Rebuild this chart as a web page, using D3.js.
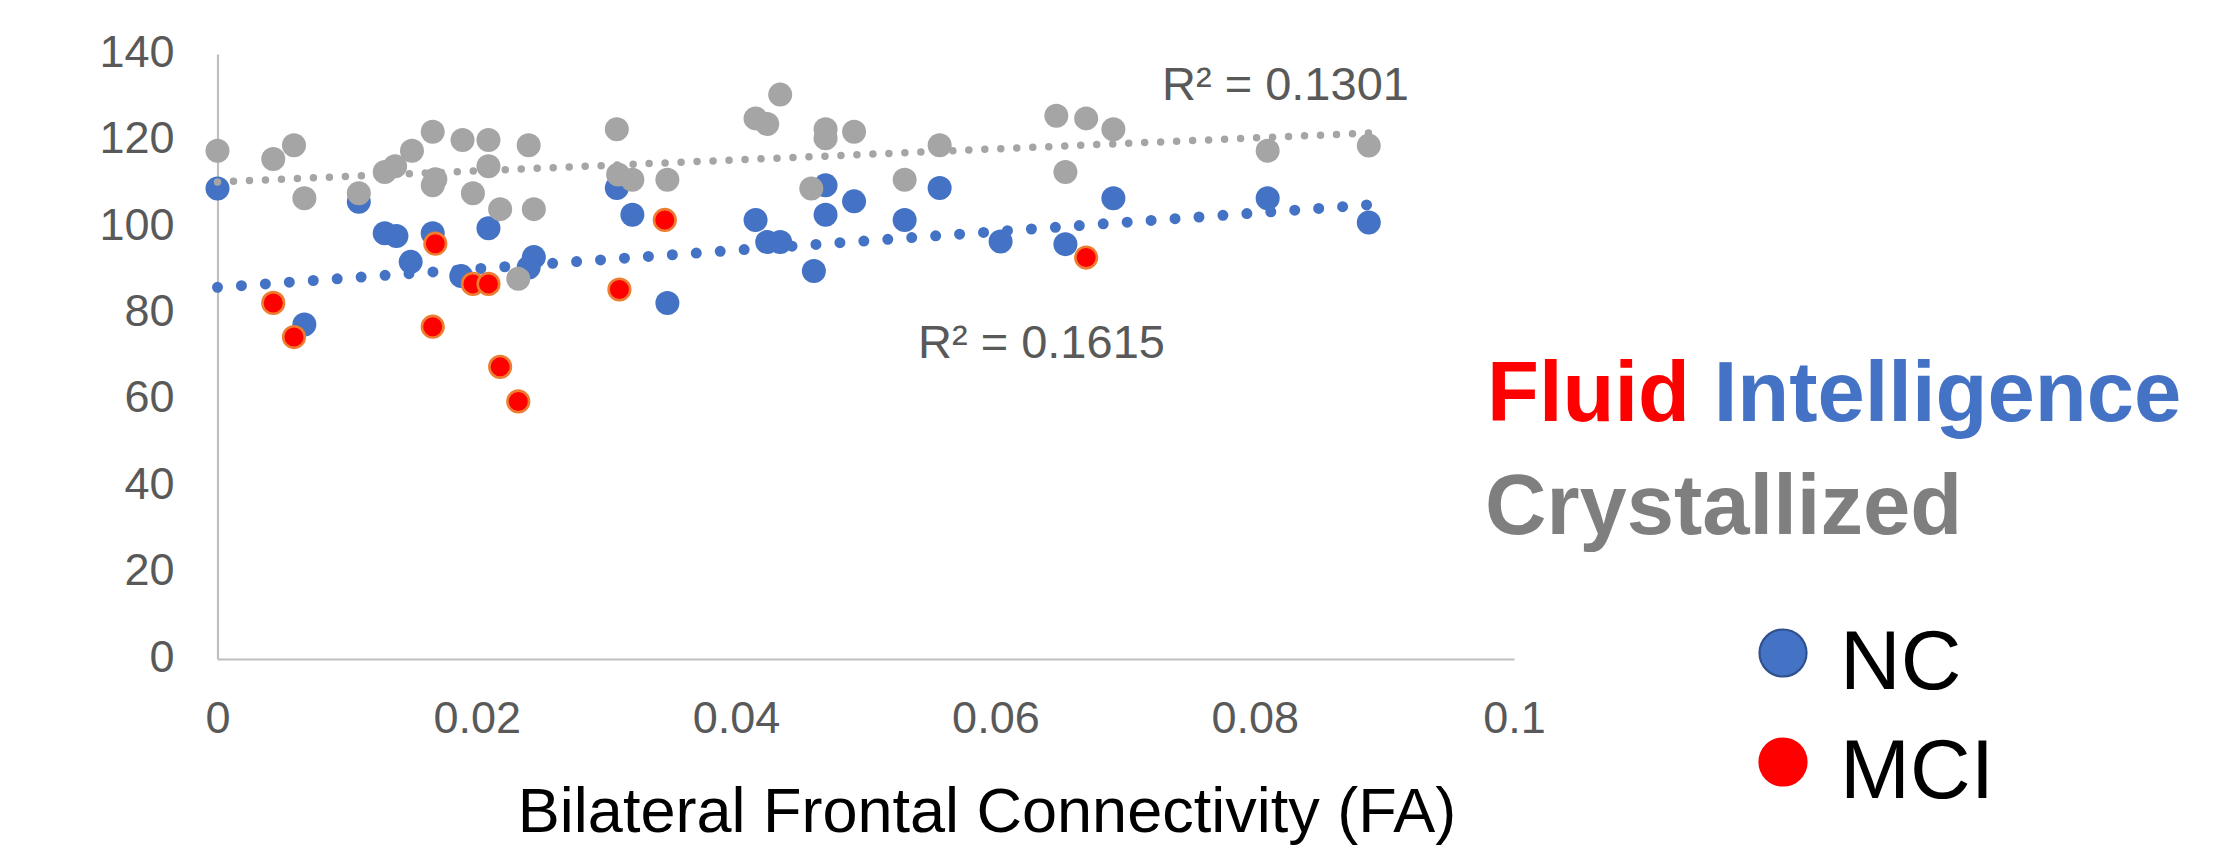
<!DOCTYPE html>
<html><head><meta charset="utf-8">
<script src="https://cdn.jsdelivr.net/npm/d3@7"></script>
<style>
body{margin:0;background:#fff}
svg{display:block}
text{font-family:"Liberation Sans",Arial,Helvetica,sans-serif}
</style>
</head><body>
<svg id="chart" width="2228" height="846"></svg>
<script>
// ---- data ----
const crystX = [0.0,0.0043,0.0059,0.0067,0.0109,0.0129,0.0137,0.0150,0.0166,0.0168,0.0166,0.0189,0.0197,0.0209,0.0209,0.0218,0.0240,0.0244,0.0232,0.0308,0.0309,0.0320,0.0347,0.0434,0.0415,0.0424,0.0469,0.0469,0.0491,0.0557,0.0458,0.0530,0.0647,0.0670,0.0691,0.0654,0.0810,0.0888];
const crystY = [117.6,115.7,118.9,106.6,107.8,112.7,114.0,117.6,122.0,111.0,109.6,120.1,107.8,120.1,114.0,104.1,118.9,104.1,88.0,122.6,112.1,110.9,110.9,130.6,125.1,123.8,122.6,120.5,122.0,118.9,108.9,110.9,125.7,125.1,122.6,112.7,117.6,118.8];

const ncX = [0.0,0.0109,0.0129,0.0138,0.0166,0.0149,0.0188,0.0209,0.0244,0.0240,0.0067,0.0308,0.0320,0.0347,0.0469,0.0491,0.0469,0.0415,0.0424,0.0434,0.0460,0.0530,0.0557,0.0604,0.0654,0.0691,0.0810,0.0888];
const ncY = [108.9,105.8,98.5,97.9,98.5,91.9,88.6,99.7,93.0,90.6,77.4,109.0,102.8,82.4,109.6,105.9,102.8,101.6,96.5,96.5,89.8,101.6,109.0,96.6,96.0,106.6,106.6,101.0];

const mciX = [0.0043,0.0059,0.0168,0.0166,0.0197,0.0209,0.0310,0.0345,0.0218,0.0232,0.0670];
const mciY = [82.4,74.5,96.1,76.9,86.8,86.8,85.5,101.6,67.6,59.6,92.9];

const trendX = [0, 0.0888];
const fluidTrendY = [86.0, 105.1];
const crystTrendY = [110.4, 121.7];

const xTicks = [0, 0.02, 0.04, 0.06, 0.08, 0.1];
const xTickLabels = ["0", "0.02", "0.04", "0.06", "0.08", "0.1"];
const yTicks = [0, 20, 40, 60, 80, 100, 120, 140];
const yTickLabels = ["0", "20", "40", "60", "80", "100", "120", "140"];

const r2Labels = ["R² = 0.1301", "R² = 0.1615"];
const legendSeries = ["NC", "MCI"];

// ---- drawing ----
const svg = d3.select("#chart");
const x = d3.scaleLinear().domain([0, 0.1]).range([217.5, 1514]);
const y = d3.scaleLinear().domain([0, 140]).range([659, 54]);

const C = {blue:"#4472C4", gray:"#A5A5A5", red:"#FF0000", orange:"#ED7D31", axis:"#BFBFBF", label:"#595959"};

// axes
const yAxis = svg.append("g").attr("transform", `translate(${x(0)},0)`)
  .call(d3.axisLeft(y).tickValues(yTicks).tickFormat((d,i)=>yTickLabels[i]).tickSize(0).tickSizeOuter(0).tickPadding(43));
const xAxis = svg.append("g").attr("transform", `translate(0,${y(0)})`)
  .call(d3.axisBottom(x).tickValues(xTicks).tickFormat((d,i)=>xTickLabels[i]).tickSize(0).tickSizeOuter(0).tickPadding(42));
[yAxis, xAxis].forEach(g => {
  g.select(".domain").attr("stroke", C.axis).attr("stroke-width", 2.2);
  g.selectAll("text").attr("font-size", 45).attr("fill", C.label)
   .attr("font-family", '"Liberation Sans",Arial,sans-serif');
});
yAxis.selectAll("text").attr("dy", "0.27em");

// points
const zip = (xs, ys) => xs.map((v,i)=>({x:v, y:ys[i]}));
svg.append("g").selectAll("circle").data(zip(ncX, ncY)).join("circle")
  .attr("cx", d=>x(d.x)).attr("cy", d=>y(d.y)).attr("r", 12).attr("fill", C.blue);
svg.append("g").selectAll("circle").data(zip(crystX, crystY)).join("circle")
  .attr("cx", d=>x(d.x)).attr("cy", d=>y(d.y)).attr("r", 12).attr("fill", C.gray);
svg.append("g").selectAll("circle").data(zip(mciX, mciY)).join("circle")
  .attr("cx", d=>x(d.x)).attr("cy", d=>y(d.y)).attr("r", 10.8)
  .attr("fill", C.red).attr("stroke", C.orange).attr("stroke-width", 2.6);

// trendlines
const line = d3.line().x(d=>x(d.x)).y(d=>y(d.y));
svg.append("path").datum(zip(trendX, fluidTrendY)).attr("d", line)
  .attr("fill","none").attr("stroke", C.blue).attr("stroke-width", 11)
  .attr("stroke-linecap","round").attr("stroke-dasharray","0 24");
svg.append("path").datum(zip(trendX, crystTrendY)).attr("d", line)
  .attr("fill","none").attr("stroke", C.gray).attr("stroke-width", 7.5)
  .attr("stroke-linecap","round").attr("stroke-dasharray","0 16");

// R² labels
svg.append("text").attr("x", 1162).attr("y", 100).attr("font-size", 47).attr("fill", C.label).text(r2Labels[0]);
svg.append("text").attr("x", 918).attr("y", 358).attr("font-size", 47).attr("fill", C.label).text(r2Labels[1]);

// axis title
svg.append("text").attr("x", 987).attr("y", 832).attr("text-anchor","middle")
  .attr("font-size", 63).attr("fill", "#000").text("Bilateral Frontal Connectivity (FA)");

// big labels
const t1 = svg.append("text").attr("x", 1487).attr("y", 421).attr("font-size", 85).attr("font-weight","bold");
t1.append("tspan").attr("fill", C.red).text("Fluid ");
t1.append("tspan").attr("fill", C.blue).text("Intelligence");
svg.append("text").attr("x", 1485).attr("y", 534).attr("font-size", 85).attr("font-weight","bold")
  .attr("fill", "#7F7F7F").text("Crystallized");

// legend
const legY = [653, 762];
const legFill = [C.blue, C.red];
const legStroke = ["#2F528F", C.red];
legendSeries.forEach((s,i)=>{
  svg.append("circle").attr("cx", 1783).attr("cy", legY[i]).attr("r", 23.5)
    .attr("fill", legFill[i]).attr("stroke", legStroke[i]).attr("stroke-width", 2.2);
  svg.append("text").attr("x", 1840).attr("y", legY[i] + 36).attr("font-size", 84).attr("fill","#000").text(s);
});
</script>
</body></html>
